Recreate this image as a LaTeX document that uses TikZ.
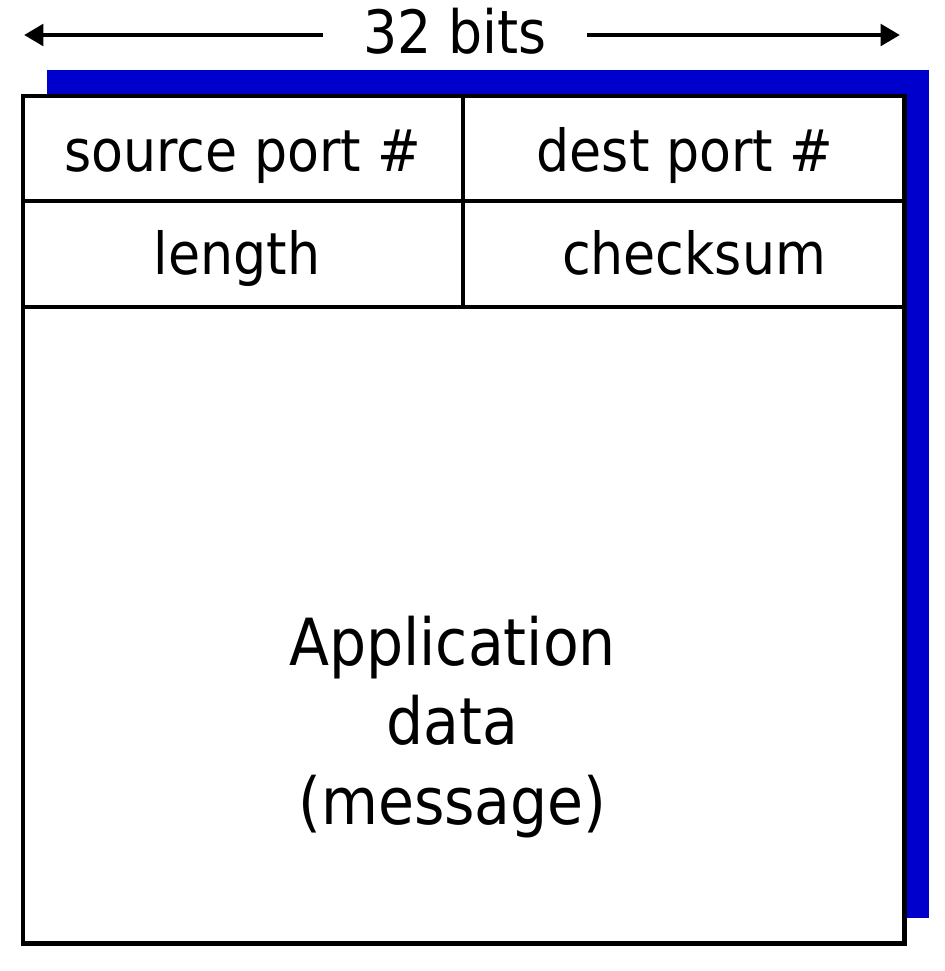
\documentclass[tikz,border=0pt]{standalone}
\usepackage{fontspec}
\setmainfont{DejaVu Sans Condensed}
\usetikzlibrary{arrows.meta,positioning}

\definecolor{shadowblue}{RGB}{0,0,204}

\tikzset{
  field/.style={font=\fontsize{33}{39}\selectfont, anchor=base, inner sep=0pt},
  payload/.style={font=\fontsize{37}{45}\selectfont, align=center, inner sep=0pt},
  frame/.style={line width=2.8pt},
  divider/.style={line width=2.3pt},
  dimarrow/.style={line width=2.8pt, -{Triangle[length=11pt,width=12pt]}}
}

\begin{document}
\begin{tikzpicture}[x=0.02cm, y=-0.02cm]
        \useasboundingbox (0,0) rectangle (944,971);

        % Width label with arrows
        \node[font=\fontsize{34}{40}\selectfont, inner ysep=0pt, inner xsep=0.8cm] (bits) at (455,31) {32 bits};
        \coordinate (leftend) at (24,35);
        \coordinate (rightend) at (900,35);
        \draw[dimarrow] (bits.west |- leftend) -- (leftend);
        \draw[dimarrow] (bits.east |- rightend) -- (rightend);

        % Blue shadow behind the segment
        \fill[shadowblue] (47,70) rectangle (929,918);

        % Segment box
        \fill[white] (23,96) rectangle (904.5,943.5);
        \draw[divider] (23,201) -- (904.5,201);
        \draw[divider] (23,307) -- (904.5,307);
        \draw[divider] (463,96) -- (463,307);
        \draw[frame] (23,96) rectangle (904.5,943.5);

        % Header fields
        \node[field] (srcport) at (243,171) {source port \#};
        \node[field] (dstport) at (685,171) {dest port \#};
        \node[field] (len) at (237,274) {length};
        \node[field] (csum) at (694,274) {checksum};

        % Payload
        \node[payload] (appdata) at (452.5,727) {Application\\data\\(message)};
\end{tikzpicture}
\end{document}
